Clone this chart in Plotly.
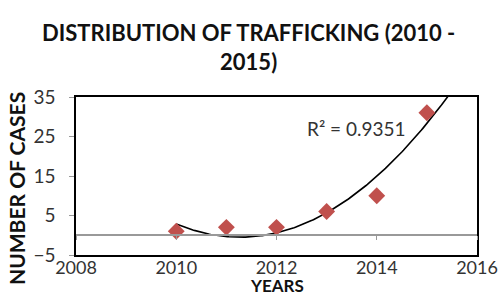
import numpy as np
import plotly.graph_objects as go

years = [2010, 2011, 2012, 2013, 2014, 2015]
cases = [1, 2, 2, 6, 10, 31]
r2_label = "R² = 0.9351"
title_text = "<b>DISTRIBUTION OF TRAFFICKING (2010 -<br>2015)</b>"

# quadratic trendline (Excel polynomial order 2, forecast forward 0.5)
coef = np.polyfit(np.array(years) - 2010, cases, 2)
tx = np.linspace(2010, 2015.5, 200)
ty = np.polyval(coef, tx - 2010)

FONT = "Lato"
fig = go.Figure()
fig.add_trace(go.Scatter(x=tx, y=ty, mode="lines", line=dict(color="black", width=1.6),
                         hoverinfo="skip", showlegend=False, cliponaxis=True))
fig.add_trace(go.Scatter(x=years, y=cases, mode="markers",
                         marker=dict(symbol="diamond", size=13, color="#C0504D"),
                         showlegend=False))
# axis line at y = 0 with ticks
fig.add_trace(go.Scatter(x=[2008, 2016], y=[0, 0], xaxis="x2", mode="lines",
                         line=dict(width=0), hoverinfo="skip", showlegend=False))

PL, PR, PT, PB = 76, 477, 97, 255  # plot area in page pixels
pw, ph = PR - PL, PB - PT

fig.update_layout(
    width=502, height=298,
    margin=dict(l=PL, r=502 - PR, t=PT, b=298 - PB, autoexpand=False),
    paper_bgcolor="white", plot_bgcolor="white",
    font=dict(family=FONT, color="#333", size=19),
    xaxis=dict(range=[2008, 2016], dtick=2, showgrid=False, zeroline=False, automargin=False,
               showline=True, linecolor="black", linewidth=1.5, mirror=True,
               ticks="", ticklabelstandoff=-4, tickfont=dict(size=18, color="#333")),
    xaxis2=dict(range=[2008, 2016], dtick=2, overlaying="x", anchor="free", position=0.125,
                showgrid=False, zeroline=False, showline=True, linecolor="#999", linewidth=1.5,
                ticks="outside", ticklen=4, tickcolor="#999", showticklabels=False,
                side="bottom", automargin=False),
    yaxis=dict(range=[-5, 35], tickvals=[-5, 5, 15, 25, 35], showgrid=False, zeroline=False,
               showline=True, linecolor="black", linewidth=1.5, mirror=True, automargin=False,
               ticks="outside", ticklen=5, tickcolor="#999", ticklabelstandoff=10,
               tickfont=dict(size=19, color="#333")),
    annotations=[
        dict(text=title_text, x=(248 - PL) / pw, y=1 + 80 / ph, xref="paper", yref="paper",
             xanchor="center", yanchor="top", showarrow=False, align="center",
             font=dict(family=FONT, size=22, color="#111")),
        dict(text="<b>NUMBER OF CASES</b>", x=(16 - PL) / pw, y=(PB - 189) / ph, xref="paper",
             yref="paper", xanchor="center", yanchor="middle", textangle=-90, showarrow=False,
             font=dict(family=FONT, size=21, color="#111")),
        dict(text="<b>YEARS</b>", x=0.5, y=(PB - 298) / ph, xref="paper", yref="paper",
             xanchor="center", yanchor="bottom", showarrow=False,
             font=dict(family=FONT, size=17, color="#111")),
        dict(text=r2_label, x=2013.6, y=27, xref="x", yref="y", xanchor="center",
             yanchor="middle", showarrow=False, font=dict(family=FONT, size=19, color="#333")),
    ],
)
fig.write_html("out.html", config={"displayModeBar": False},
               post_script="document.body.style.margin='0';")
